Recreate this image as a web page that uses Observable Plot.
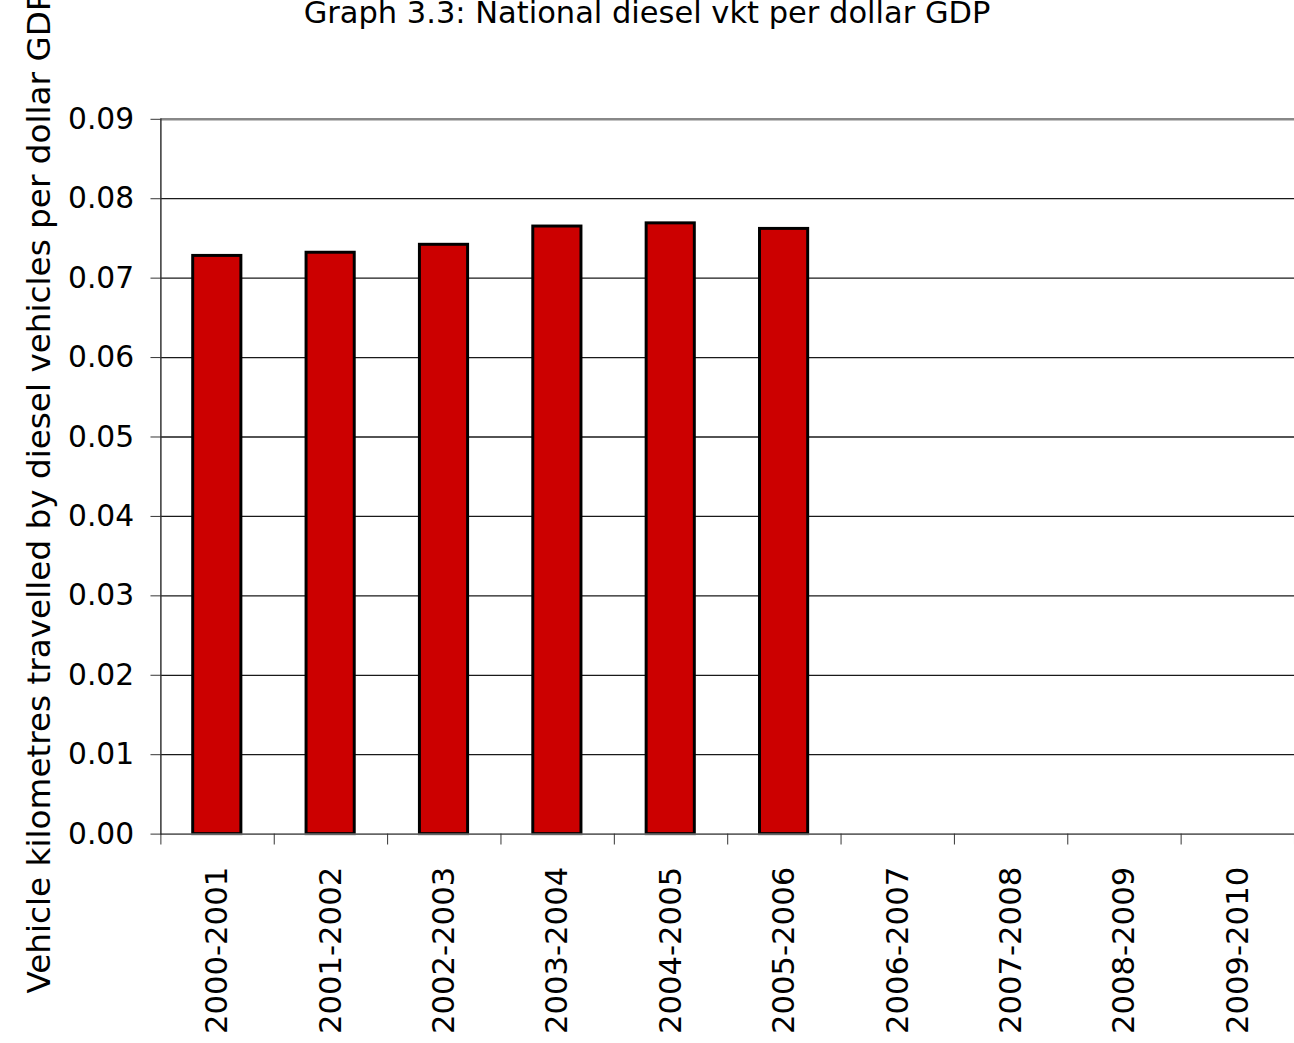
<!DOCTYPE html>
<html>
<head>
<meta charset="utf-8">
<script src="https://cdn.jsdelivr.net/npm/d3@7"></script>
<script src="https://cdn.jsdelivr.net/npm/@observablehq/plot@0.6"></script>
<style>
  html, body { margin: 0; padding: 0; background: #fff; overflow: hidden; }
  #chart svg { display: block; }
</style>
</head>
<body>
<div id="chart"></div>
<script>
const chartTitle = "Graph 3.3: National diesel vkt per dollar GDP";
const yTitle = "Vehicle kilometres travelled by diesel vehicles per dollar GDP";
const categories = ["2000-2001","2001-2002","2002-2003","2003-2004","2004-2005","2005-2006","2006-2007","2007-2008","2008-2009","2009-2010"];
const values = [0.0728, 0.0732, 0.0742, 0.0765, 0.0769, 0.0762, null, null, null, null];
const yTicks = [0, 0.01, 0.02, 0.03, 0.04, 0.05, 0.06, 0.07, 0.08, 0.09];

const data = categories.map((c, i) => ({i, category: c, value: values[i]}));
const bars = data.filter(d => d.value != null);
const boundaries = d3.range(categories.length + 1);
const centers = categories.map((c, i) => i + 0.5);

const W = 1307, H = 1043, ML = 162, MR = 0, MT = 120, MB = 201;
const frameCenterX = ML + (W - ML - MR) / 2;

const chart = Plot.plot({
  width: W,
  height: H,
  marginLeft: ML,
  marginRight: MR,
  marginTop: MT,
  marginBottom: MB,
  style: {fontFamily: "'DejaVu Sans', Verdana, sans-serif", fontSize: "30px", color: "#000", background: "#fff"},
  x: {domain: [0, categories.length], axis: null},
  y: {domain: [0, 0.09], axis: null},
  marks: [
    Plot.ruleY(yTicks.filter(v => v > 0 && v < 0.09), {stroke: "#1a1a1a", strokeWidth: 1.3}),
    Plot.ruleY([0.09], {stroke: "#888", strokeWidth: 2.5}),
    Plot.rectY(bars, {x1: d => d.i + 0.285, x2: d => d.i + 0.71, y: "value", fill: "#CC0000", stroke: "#000", strokeWidth: 3}),
    Plot.ruleY([0], {stroke: "#666", strokeWidth: 2}),
    Plot.frame({anchor: "left", stroke: "#333", strokeWidth: 1.5}),
    Plot.axisY({ticks: yTicks, tickSize: 10, tickPadding: 17, tickFormat: d3.format(".2f"), fontSize: 30, label: null, stroke: "#333"}),
    Plot.axisX({ticks: boundaries, tickSize: 11, tickFormat: () => "", label: null, stroke: "#333"}),
    Plot.axisX({ticks: centers, tickSize: 0, tickPadding: 33, tickRotate: -90, tickFormat: d => categories[Math.floor(d)], fontSize: 31, label: null, ariaLabel: "x-labels"}),
    Plot.text([chartTitle], {frameAnchor: "top", dx: 653 - frameCenterX, dy: -119, lineAnchor: "top", fontSize: 30.8, fill: "#000"}),
    Plot.text([yTitle], {frameAnchor: "left", textAnchor: "middle", rotate: -90, dx: 39 - ML, dy: 16, lineAnchor: "middle", fontSize: 33, fill: "#000"})
  ]
});
// slightly widen the rotated x tick labels to match the reference glyph proportions
d3.select(chart).selectAll("g[aria-label='x-labels'] text").each(function() {
  const t = this.getAttribute("transform") || "";
  this.setAttribute("transform", t + " scale(1,1.15)");
});
document.getElementById("chart").appendChild(chart);
</script>
</body>
</html>
